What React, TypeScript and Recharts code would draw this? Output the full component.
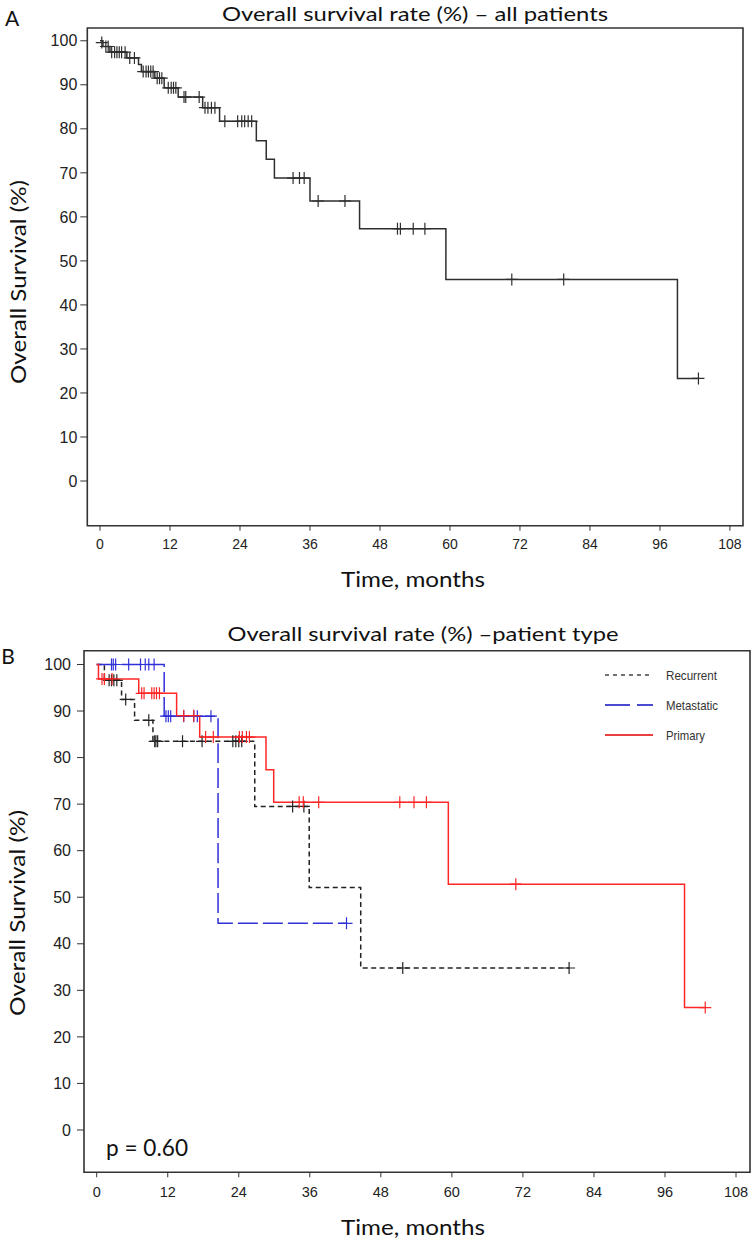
import React from 'react';
import { ComposedChart, Line, Scatter, XAxis, YAxis, ReferenceArea } from 'recharts';

// ---------- shared axis values ----------
const monthTicks = [0, 12, 24, 36, 48, 60, 72, 84, 96, 108];
const survivalTicks = [0, 10, 20, 30, 40, 50, 60, 70, 80, 90, 100];

// ---------- Panel A: all patients ----------
// Kaplan-Meier steps [month, survival %]
const allSteps: number[][] = [
  [0, 100], [0.5, 98.7], [1.7, 97.4], [4.6, 96.1], [6.6, 94.6], [7.1, 93.0],
  [9.4, 91.5], [11.0, 89.3], [13.4, 87.2], [17.6, 84.8], [20.5, 81.7],
  [26.8, 77.3], [28.5, 73.1], [29.9, 68.8], [36.0, 63.6], [44.5, 57.3],
  [59.3, 45.8], [99.0, 23.3], [102.6, 23.3],
];
// censored observations [month, survival %]
const allCensored: number[][] = [
  [0.3, 99.6], [1.0, 98.7], [1.4, 98.7],
  [2.0, 97.4], [2.5, 97.4], [2.9, 97.4], [3.3, 97.4], [3.7, 97.4], [4.3, 97.4],
  [5.1, 96.1], [5.9, 96.1],
  [7.4, 93.0], [7.9, 93.0], [8.3, 93.0], [8.7, 93.0], [9.1, 93.0],
  [9.8, 91.5], [10.2, 91.5], [10.6, 91.5],
  [11.7, 89.3], [12.2, 89.3], [12.6, 89.3], [13.0, 89.3],
  [14.4, 87.2], [14.7, 87.2], [17.0, 87.2],
  [18.0, 84.8], [18.5, 84.8], [19.1, 84.8], [19.7, 84.8],
  [21.4, 81.7], [23.6, 81.7], [24.3, 81.7], [24.8, 81.7], [25.4, 81.7], [26.0, 81.7],
  [33.1, 68.8], [34.2, 68.8], [35.0, 68.8],
  [37.4, 63.6], [42.0, 63.6],
  [51.0, 57.3], [51.5, 57.3], [53.7, 57.3], [55.7, 57.3],
  [70.6, 45.8], [79.5, 45.8],
  [102.6, 23.3],
];

// ---------- Panel B: by patient type ----------
const recurrentSteps: number[][] = [
  [0, 100], [1.3, 96.6], [4.2, 92.5], [6.4, 88.0], [9.5, 83.5],
  [26.7, 69.5], [35.9, 52.1], [44.6, 34.8], [79.8, 34.8],
];
const recurrentCensored: number[][] = [
  [2.1, 96.6], [2.5, 96.6], [2.9, 96.6], [3.4, 96.6],
  [4.9, 92.5], [8.8, 88.0],
  [9.8, 83.5], [10.0, 83.5], [10.3, 83.5], [14.5, 83.5], [17.8, 83.5],
  [23.0, 83.5], [23.5, 83.5], [24.0, 83.5], [24.5, 83.5],
  [33.1, 69.5], [35.0, 69.5],
  [51.7, 34.8], [79.8, 34.8],
];
const metastaticSteps: number[][] = [
  [0, 100], [11.4, 88.9], [20.5, 44.4], [42.2, 44.4],
];
const metastaticCensored: number[][] = [
  [2.5, 100], [2.8, 100], [3.2, 100], [5.4, 100], [7.4, 100], [8.2, 100], [8.8, 100], [9.7, 100],
  [11.7, 88.9], [12.1, 88.9], [12.5, 88.9], [14.7, 88.9], [16.4, 88.9], [17.0, 88.9], [19.3, 88.9],
  [42.2, 44.4],
];
const primarySteps: number[][] = [
  [0, 100], [0.3, 96.9], [7.1, 93.8], [13.5, 89.0], [17.4, 84.4],
  [28.6, 77.4], [29.9, 70.4], [59.4, 52.8], [99.3, 26.3], [102.8, 26.3],
];
const primaryCensored: number[][] = [
  [0.9, 96.9], [1.3, 96.9], [2.6, 96.9],
  [7.6, 93.8], [8.0, 93.8], [9.3, 93.8], [9.7, 93.8], [10.1, 93.8], [10.6, 93.8],
  [14.7, 89.0], [16.4, 89.0],
  [18.4, 84.4], [19.7, 84.4], [24.1, 84.4], [24.6, 84.4], [25.3, 84.4], [25.8, 84.4],
  [34.2, 70.4], [34.9, 70.4], [37.5, 70.4], [51.2, 70.4], [53.6, 70.4], [55.7, 70.4],
  [70.8, 52.8],
  [102.8, 26.3],
];

const legendLabels = ['Recurrent', 'Metastatic', 'Primary'];

const toRows = (pairs: number[][]) => pairs.map(([t, s]) => ({ t, s }));

const TITLE_FONT = "Lato, 'Open Sans', sans-serif";
const TICK_FONT = "'Liberation Sans Narrow', 'Liberation Sans', Arial, sans-serif";
const NARROW_FONT = "'Liberation Sans Narrow', 'Liberation Sans', Arial, sans-serif";

const COLORS = {
  all: '#2e2e2e',
  recurrent: '#222222',
  metastatic: '#3030d8',
  primary: '#ff2626',
  frame: '#333333',
};

const Y_AXIS_W = 50;
const X_AXIS_H = 30;

const plusShape = (color: string) => (props: any) => {
  const { cx, cy } = props;
  if (cx == null || cy == null) return <g />;
  return (
    <path
      d={`M${cx - 6},${cy}H${cx + 6}M${cx},${cy - 6}V${cy + 6}`}
      stroke={color}
      strokeWidth={1.2}
      fill="none"
    />
  );
};

type PanelProps = {
  top: number;
  height: number;
  plot: { top: number; right: number; bottom: number; left: number };
  xDomain: [number, number];
  yDomain: [number, number];
  xTickFont: number;
  yTickFont: number;
  xTickMargin: number;
  yTickMargin: number;
  children: React.ReactNode;
};

function Panel({ top, height, plot, xDomain, yDomain, xTickFont, yTickFont, xTickMargin, yTickMargin, children }: PanelProps) {
  const margin = {
    top: plot.top,
    right: plot.right,
    bottom: plot.bottom - X_AXIS_H,
    left: plot.left - Y_AXIS_W,
  };
  return (
    <div style={{ position: 'absolute', left: 0, top, width: 752, height }}>
      <ComposedChart width={752} height={height} margin={margin}>
        <XAxis
          dataKey="t"
          type="number"
          domain={xDomain}
          allowDataOverflow
          ticks={monthTicks}
          interval={0}
          height={X_AXIS_H}
          axisLine={false}
          stroke={COLORS.frame}
          tickSize={5}
          tickMargin={xTickMargin}
          tick={{ fontSize: xTickFont, fill: '#222', fontFamily: TICK_FONT }}
        />
        <YAxis
          type="number"
          domain={yDomain}
          allowDataOverflow
          ticks={survivalTicks}
          interval={0}
          width={Y_AXIS_W}
          axisLine={false}
          stroke={COLORS.frame}
          tickSize={7}
          tickMargin={yTickMargin}
          tick={{ fontSize: yTickFont, fill: '#222', fontFamily: TICK_FONT }}
        />
        <ReferenceArea
          x1={xDomain[0]}
          x2={xDomain[1]}
          y1={yDomain[0]}
          y2={yDomain[1]}
          fill="none"
          fillOpacity={0}
          stroke={COLORS.frame}
          strokeWidth={1.6}
          ifOverflow="visible"
        />
        {children}
      </ComposedChart>
    </div>
  );
}

export default function App() {
  return (
    <div style={{ position: 'absolute', left: 0, top: 0, width: 752, height: 1240, background: '#fff', overflow: 'hidden' }}>
      {/* Panel A */}
      <Panel
        top={0}
        height={620}
        plot={{ top: 28, right: 9, bottom: 94.3, left: 87.3 }}
        xDomain={[-2.18, 110.24]}
        yDomain={[-10.15, 102.9]}
        xTickFont={14}
        yTickFont={16}
        xTickMargin={8}
        yTickMargin={3}
      >
        <Line
          data={toRows(allSteps)}
          dataKey="s"
          type="stepAfter"
          stroke={COLORS.all}
          strokeWidth={1.5}
          dot={false}
          activeDot={false}
          isAnimationActive={false}
        />
        <Scatter data={toRows(allCensored)} dataKey="s" shape={plusShape(COLORS.all)} isAnimationActive={false} />
      </Panel>

      {/* Panel B */}
      <Panel
        top={620}
        height={620}
        plot={{ top: 30.7, right: 2, bottom: 67.7, left: 84 }}
        xDomain={[-2.145, 110.36]}
        yDomain={[-9.09, 102.96]}
        xTickFont={14.5}
        yTickFont={16}
        xTickMargin={9}
        yTickMargin={6}
      >
        <Line
          data={toRows(recurrentSteps)}
          dataKey="s"
          type="stepAfter"
          stroke={COLORS.recurrent}
          strokeWidth={1.5}
          strokeDasharray="5 3.5"
          dot={false}
          activeDot={false}
          isAnimationActive={false}
        />
        <Line
          data={toRows(metastaticSteps)}
          dataKey="s"
          type="stepAfter"
          stroke={COLORS.metastatic}
          strokeWidth={1.5}
          strokeDasharray="20 5"
          dot={false}
          activeDot={false}
          isAnimationActive={false}
        />
        <Line
          data={toRows(primarySteps)}
          dataKey="s"
          type="stepAfter"
          stroke={COLORS.primary}
          strokeWidth={1.5}
          dot={false}
          activeDot={false}
          isAnimationActive={false}
        />
        <Scatter data={toRows(recurrentCensored)} dataKey="s" shape={plusShape(COLORS.recurrent)} isAnimationActive={false} />
        <Scatter data={toRows(metastaticCensored)} dataKey="s" shape={plusShape(COLORS.metastatic)} isAnimationActive={false} />
        <Scatter data={toRows(primaryCensored)} dataKey="s" shape={plusShape(COLORS.primary)} isAnimationActive={false} />
      </Panel>

      {/* Text overlay */}
      <svg width={752} height={1240} style={{ position: 'absolute', left: 0, top: 0, pointerEvents: 'none' }}>
        <g fontFamily={TITLE_FONT} fill="#111">
          <text x={12} y={17} fontSize={21} textAnchor="middle" dominantBaseline="central">A</text>
          <text x={415} y={13} fontSize={20} textAnchor="middle" dominantBaseline="central" textLength={386} lengthAdjust="spacingAndGlyphs">
            Overall survival rate (%) – all patients
          </text>
          <text x={413} y={578} fontSize={21} textAnchor="middle" dominantBaseline="central" textLength={144} lengthAdjust="spacingAndGlyphs">
            Time, months
          </text>
          <text transform="translate(17,282) rotate(-90)" fontSize={21} textAnchor="middle" dominantBaseline="central" textLength={204} lengthAdjust="spacingAndGlyphs">
            Overall Survival (%)
          </text>

          <text x={8} y={655} fontSize={21} textAnchor="middle" dominantBaseline="central">B</text>
          <text x={423} y={633} fontSize={20} textAnchor="middle" dominantBaseline="central" textLength={391} lengthAdjust="spacingAndGlyphs">
            Overall survival rate (%) –patient type
          </text>
          <text x={413} y={1226} fontSize={21} textAnchor="middle" dominantBaseline="central" textLength={144} lengthAdjust="spacingAndGlyphs">
            Time, months
          </text>
          <text transform="translate(16,913) rotate(-90)" fontSize={21} textAnchor="middle" dominantBaseline="central" textLength={206} lengthAdjust="spacingAndGlyphs">
            Overall Survival (%)
          </text>
          <text x={106} y={1147} fontSize={23} dominantBaseline="central" textLength={82} lengthAdjust="spacingAndGlyphs">
            p = 0.60
          </text>
        </g>

        {/* Legend for panel B */}
        <g>
          <line x1={605} x2={653} y1={675} y2={675} stroke="#444" strokeWidth={1.5} strokeDasharray="4 4" />
          <line x1={605} x2={653} y1={705} y2={705} stroke="#4a4ad0" strokeWidth={2} strokeDasharray="25 7" />
          <line x1={605} x2={653} y1={735} y2={735} stroke="#e84040" strokeWidth={2} />
          <g fontFamily={NARROW_FONT} fontSize={13.5} fill="#333">
            <text x={666} y={675} dominantBaseline="central" textLength={51} lengthAdjust="spacingAndGlyphs">{legendLabels[0]}</text>
            <text x={666} y={705} dominantBaseline="central" textLength={52} lengthAdjust="spacingAndGlyphs">{legendLabels[1]}</text>
            <text x={666} y={735} dominantBaseline="central" textLength={39} lengthAdjust="spacingAndGlyphs">{legendLabels[2]}</text>
          </g>
        </g>
      </svg>
    </div>
  );
}
